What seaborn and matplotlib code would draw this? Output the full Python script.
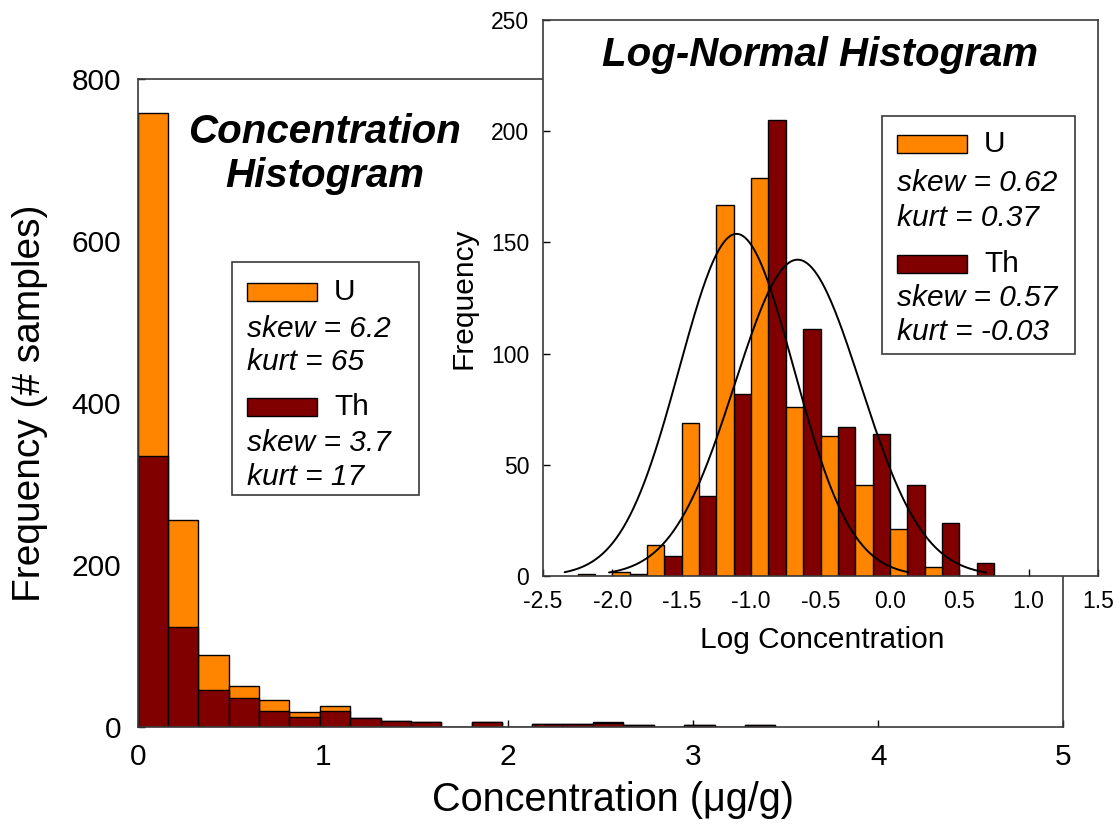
import matplotlib
matplotlib.use("Agg")
import matplotlib.pyplot as plt
from matplotlib.patches import Rectangle
import numpy as np
import pandas as pd
import seaborn as sns

# ---- data ----
# main histogram: concentration (ug/g), equal bins starting at 0
conc_bin_width = 0.164
u_conc_counts = [758, 255, 89, 50, 33, 18, 26, 11, 7, 6, 0, 6, 0, 3, 3, 6, 2, 0, 2, 0, 2]
th_conc_counts = [335, 123, 45, 35, 20, 12, 20, 11, 7, 6, 0, 6, 0, 3, 3, 5, 2, 0, 2, 0, 2]

# inset: log10 concentration, bins of 0.25 starting at -2.25
log_bin_start = -2.25
log_bin_width = 0.25
u_log_counts = [1, 2, 14, 69, 167, 179, 76, 63, 41, 21, 4, 0]
th_log_counts = [0, 1, 9, 36, 82, 205, 111, 67, 64, 41, 24, 6]

# normal fits over the log histogram
u_log_mean, u_log_sd = -1.105, 0.413
th_log_mean, th_log_sd = -0.665, 0.453

# legend stats
u_conc_stats = ("6.2", "65")
th_conc_stats = ("3.7", "17")
u_log_stats = ("0.62", "0.37")
th_log_stats = ("0.57", "-0.03")

U_COLOR = "#FF8400"
TH_COLOR = "#800000"
SPINE = "#3a3a3a"
W, H = 1120, 830

sns.set_style("white")
plt.rcParams["font.family"] = ["Liberation Sans", "DejaVu Sans"]
plt.rcParams["axes.unicode_minus"] = False
plt.rcParams["text.color"] = "black"
plt.rcParams["axes.labelcolor"] = "black"


def style_axes(ax, labelsize, pad):
    for s in ax.spines.values():
        s.set_visible(True)
        s.set_color(SPINE)
        s.set_linewidth(1.2)
    ax.tick_params(direction="in", length=5, width=1, colors="black",
                   labelsize=labelsize, pad=pad, bottom=True, left=True)


def px(x, y):
    return x / W, 1 - y / H


def stats_box(fig, box, patch_rows, text_rows, items, fontsize):
    # box = (left, top, right, bottom) in pixels
    l, t, r, b = box
    x0, y0 = px(l, b)
    x1, y1 = px(r, t)
    fig.add_artist(Rectangle((x0, y0), x1 - x0, y1 - y0, transform=fig.transFigure,
                             facecolor="white", edgecolor=SPINE, lw=1.2, zorder=5))
    for (name, color, stats), py, (sy, ky) in zip(items, patch_rows, text_rows):
        ax_, ay_ = px(l + 15, py + 9)
        bx_, by_ = px(l + 85, py - 9)
        fig.add_artist(Rectangle((ax_, ay_), bx_ - ax_, by_ - ay_, transform=fig.transFigure,
                                 facecolor=color, edgecolor="black", lw=1, zorder=6))
        fig.text(*px(l + 102, py), name, fontsize=fontsize, va="center", ha="left", zorder=7)
        fig.text(*px(l + 15, sy), f"skew = {stats[0]}", fontsize=fontsize,
                 style="italic", va="center", ha="left", zorder=7)
        fig.text(*px(l + 15, ky), f"kurt = {stats[1]}", fontsize=fontsize,
                 style="italic", va="center", ha="left", zorder=7)


fig = plt.figure(figsize=(W / 100, H / 100), dpi=100)

# ---- main concentration histogram ----
ax = fig.add_axes([137.7 / W, 1 - 726.7 / H, (1063.3 - 137.7) / W, (726.7 - 79.3) / H])
n_conc = len(u_conc_counts)
conc_edges = (np.arange(n_conc + 1) * conc_bin_width).tolist()
conc_centers = [e + conc_bin_width / 2 for e in conc_edges[:-1]]
conc_df = pd.DataFrame({"conc": conc_centers, "U": u_conc_counts, "Th": th_conc_counts})
for col, color in (("U", U_COLOR), ("Th", TH_COLOR)):
    sns.histplot(data=conc_df, x="conc", weights=col, bins=conc_edges, color=color,
                 alpha=1, edgecolor="black", linewidth=1, ax=ax)
ax.set_xlim(0, 5)
ax.set_ylim(0, 800)
ax.set_xticks(range(0, 6))
ax.set_yticks(range(0, 801, 200))
style_axes(ax, 21.5, 12)
ax.set_xlabel("Concentration (\u03bcg/g)", fontsize=28.5)
ax.set_ylabel("Frequency (# samples)", fontsize=28)
ax.xaxis.set_label_coords(0.513, -0.113)
ax.xaxis.label.set_va("center")
ax.yaxis.set_label_coords(-0.116, 0.5)
ax.yaxis.label.set_va("center")
ax.text(0.202, 0.8846, "Concentration\nHistogram", transform=ax.transAxes, ha="center",
        va="center", fontsize=29, fontweight="bold", style="italic", linespacing=1.2)

# ---- inset log histogram ----
axin = fig.add_axes([543 / W, 1 - 576 / H, (1098 - 543) / W, (576 - 20) / H])
axin.set_facecolor("white")
n_log = len(u_log_counts)
log_edges = (log_bin_start + np.arange(n_log + 1) * log_bin_width).tolist()
log_centers = [e + log_bin_width / 2 for e in log_edges[:-1]]
df = pd.DataFrame({
    "logc": log_centers + log_centers,
    "count": u_log_counts + th_log_counts,
    "element": ["U"] * n_log + ["Th"] * n_log,
})
sns.histplot(data=df, x="logc", weights="count", hue="element", hue_order=["U", "Th"],
             multiple="dodge", bins=log_edges, shrink=1,
             palette={"U": U_COLOR, "Th": TH_COLOR}, alpha=1, edgecolor="black",
             linewidth=1, legend=False, ax=axin)

for mean, sd, counts in ((u_log_mean, u_log_sd, u_log_counts),
                         (th_log_mean, th_log_sd, th_log_counts)):
    xs = np.linspace(mean - 3 * sd, mean + 3 * sd, 300)
    scale = sum(counts) * log_bin_width / (sd * np.sqrt(2 * np.pi))
    ys = scale * np.exp(-0.5 * ((xs - mean) / sd) ** 2)
    sns.lineplot(x=xs, y=ys, color="black", linewidth=1.4, ax=axin)

axin.set_xlim(-2.5, 1.5)
axin.set_ylim(0, 250)
axin.set_xticks(np.arange(-2.5, 1.51, 0.5))
axin.set_xticklabels([f"{v:.1f}" for v in np.arange(-2.5, 1.51, 0.5)])
axin.set_yticks(range(0, 251, 50))
style_axes(axin, 16.5, 10)
axin.set_xlabel("Log Concentration", fontsize=21.5)
axin.set_ylabel("Frequency", fontsize=21.5)
axin.xaxis.set_label_coords(0.503, -0.115)
axin.xaxis.label.set_va("center")
axin.yaxis.set_label_coords(-0.144, 0.5)
axin.yaxis.label.set_va("center")
axin.text(0.499, 0.937, "Log-Normal Histogram", transform=axin.transAxes, ha="center",
          va="center", fontsize=29, fontweight="bold", style="italic")

# ---- stats legends ----
stats_box(fig, (232, 262, 419, 495), [292, 407], [(329, 362), (443, 477)],
          [("U", U_COLOR, u_conc_stats), ("Th", TH_COLOR, th_conc_stats)], 21.5)
stats_box(fig, (882, 116, 1075, 354), [144, 264], [(183, 218), (298, 332)],
          [("U", U_COLOR, u_log_stats), ("Th", TH_COLOR, th_log_stats)], 21.5)

fig.savefig("out.png", dpi=100)
